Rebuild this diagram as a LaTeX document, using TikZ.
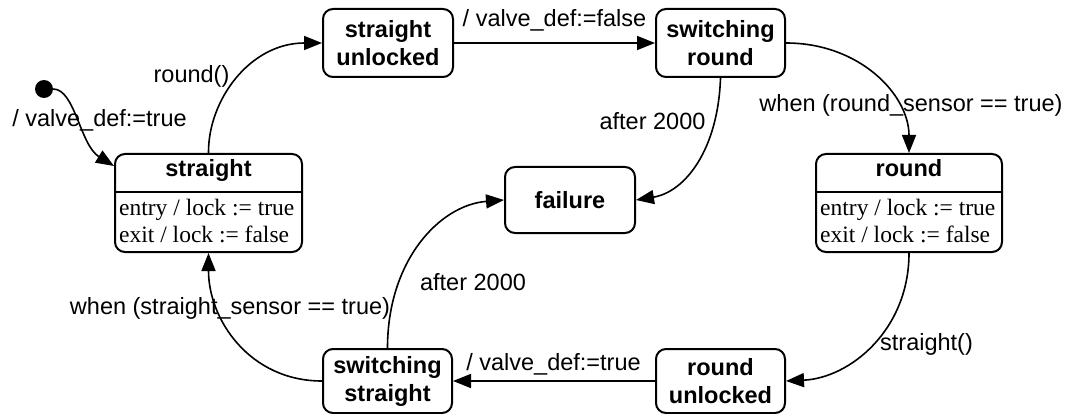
\documentclass[tikz,border=0pt]{standalone}
\usepackage{fontspec}
\setmainfont{Liberation Serif}
\setsansfont{Liberation Sans}
\usetikzlibrary{arrows.meta,calc}
\begin{document}
\begin{tikzpicture}[x=1pt,y=-1pt,
  statebox/.style={draw, line width=2pt, rounded corners=10pt, inner sep=0pt, align=center,
    font=\sffamily\bfseries\fontsize{23.5}{28}\selectfont},
  titletext/.style={font=\sffamily\bfseries\fontsize{23.5}{28}\selectfont, inner sep=0pt, anchor=base},
  edge/.style={line width=1.6pt, -{Triangle[length=18pt,width=14pt]}},
  lbl/.style={font=\sffamily\fontsize{23.5}{28}\selectfont, inner sep=0pt, anchor=base},
  actions/.style={font=\rmfamily\fontsize{23.5}{27}\selectfont, inner sep=0pt, anchor=base west},
  divider/.style={line width=2pt},
]
\useasboundingbox (0,0) rectangle (1067,414);
\fill[white] (0,0) rectangle (1067,414);

% initial pseudo-state
\node[circle, fill, inner sep=0pt, minimum size=18pt] (init) at (44,89) {};

% composite states with actions
\node[statebox, minimum width=187pt, minimum height=98pt] (straight) at (208.5,203) {};
\node[titletext] (straightT) at (208.5,177) {straight};
\draw[divider] ([yshift=11pt]straight.west) -- ([yshift=11pt]straight.east);
\node[actions] (straightE) at (119,215) {entry / lock := true};
\node[actions] (straightX) at (119,242) {exit / lock := false};

\node[statebox, minimum width=186pt, minimum height=98pt] (round) at (909,203) {};
\node[titletext] (roundT) at (909,177) {round};
\draw[divider] ([yshift=11pt]round.west) -- ([yshift=11pt]round.east);
\node[actions] (roundE) at (820,215) {entry / lock := true};
\node[actions] (roundX) at (820,242) {exit / lock := false};

% simple states
\node[statebox, minimum width=130pt, minimum height=68pt] (su) at (388,43) {straight\\unlocked};
\node[statebox, minimum width=129pt, minimum height=68pt] (sr) at (720.5,43) {switching\\round};
\node[statebox, minimum width=130pt, minimum height=66pt] (failure) at (570,200) {failure};
\node[statebox, minimum width=129pt, minimum height=64pt] (ss) at (387.5,381) {switching\\straight};
\node[statebox, minimum width=129pt, minimum height=64pt] (ru) at (720.5,381) {round\\unlocked};

% transitions
\draw[edge] (init.east) .. controls (75,89) and (80,145) .. ($(straight.north west)+(0,13)$);
\draw[edge] (straight.north) .. controls (208,100) and (250,43) .. (su.west);
\draw[edge] (su.east) -- (sr.west);
\draw[edge] (sr.east) .. controls (860,43) and (909,95) .. (round.north);
\draw[edge] (sr.south) .. controls (718,150) and (685,192) .. (failure.east);
\draw[edge] (round.south) .. controls (909,330) and (850,378) .. (ru.east);
\draw[edge] (ru.west) -- (ss.east);
\draw[edge] (ss.west) .. controls (250,381) and (208.5,320) .. (straight.south);
\draw[edge] (ss.north) .. controls (387.5,260) and (440,205) .. (failure.west);

% transition labels
\node[lbl] (l1) at (99.5,127) {/ valve\_def:=true};
\node[lbl] (l2) at (191.5,83) {round()};
\node[lbl] (l3) at (554.5,27) {/ valve\_def:=false};
\node[lbl] (l4) at (911,112) {when (round\_sensor == true)};
\node[lbl] (l5) at (652.5,130) {after 2000};
\node[lbl] (l6) at (926.5,350) {straight()};
\node[lbl] (l7) at (553.5,370) {/ valve\_def:=true};
\node[lbl] (l8) at (230,314) {when (straight\_sensor == true)};
\node[lbl] (l9) at (473,290) {after 2000};
\end{tikzpicture}
\end{document}
